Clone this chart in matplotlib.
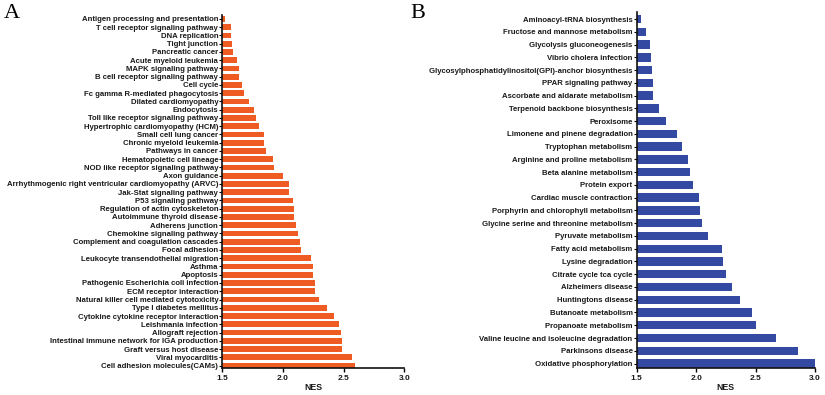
import matplotlib
matplotlib.use("Agg")
import matplotlib.pyplot as plt

plt.rcParams['font.family'] = ['Liberation Sans', 'DejaVu Sans']

cats_a = [
    "Antigen processing and presentation", "T cell receptor signaling pathway",
    "DNA replication", "Tight junction", "Pancreatic cancer", "Acute myeloid leukemia",
    "MAPK signaling pathway", "B cell receptor signaling pathway", "Cell cycle",
    "Fc gamma R-mediated phagocytosis", "Dilated cardiomyopathy", "Endocytosis",
    "Toll like receptor signaling pathway", "Hypertrophic cardiomyopathy (HCM)",
    "Small cell lung cancer", "Chronic myeloid leukemia", "Pathways in cancer",
    "Hematopoietic cell lineage", "NOD like receptor signaling pathway", "Axon guidance",
    "Arrhythmogenic right ventricular cardiomyopathy (ARVC)", "Jak-Stat signaling pathway",
    "P53 signaling pathway", "Regulation of actin cytoskeleton", "Autoimmune thyroid disease",
    "Adherens junction", "Chemokine signaling pathway", "Complement and coagulation cascades",
    "Focal adhesion", "Leukocyte transendothelial migration", "Asthma", "Apoptosis",
    "Pathogenic Escherichia coli infection", "ECM receptor interaction",
    "Natural killer cell mediated cytotoxicity", "Type I diabetes mellitus",
    "Cytokine cytokine receptor interaction", "Leishmania infection", "Allograft rejection",
    "Intestinal immune network for IGA production", "Graft versus host disease",
    "Viral myocarditis", "Cell adhesion molecules(CAMs)",
]
nes_a = [
    1.52, 1.57, 1.57, 1.58, 1.59, 1.62, 1.64, 1.64, 1.66, 1.68, 1.72, 1.76, 1.78, 1.80,
    1.84, 1.84, 1.86, 1.92, 1.93, 2.00, 2.05, 2.05, 2.08, 2.09, 2.09, 2.11, 2.12, 2.14,
    2.15, 2.23, 2.25, 2.25, 2.26, 2.26, 2.30, 2.36, 2.42, 2.46, 2.48, 2.49, 2.49, 2.57, 2.59,
]

cats_b = [
    "Aminoacyl-tRNA biosynthesis", "Fructose and mannose metabolism",
    "Glycolysis gluconeogenesis", "Vibrio cholera infection",
    "Glycosylphosphatidylinositol(GPI)-anchor biosynthesis", "PPAR signaling pathway",
    "Ascorbate and aldarate metabolism", "Terpenoid backbone biosynthesis", "Peroxisome",
    "Limonene and pinene degradation", "Tryptophan metabolism",
    "Arginine and proline metabolism", "Beta alanine metabolism", "Protein export",
    "Cardiac muscle contraction", "Porphyrin and chlorophyll metabolism",
    "Glycine serine and threonine metabolism", "Pyruvate metabolism",
    "Fatty acid metabolism", "Lysine degradation", "Citrate cycle tca cycle",
    "Alzheimers disease", "Huntingtons disease", "Butanoate metabolism",
    "Propanoate metabolism", "Valine leucine and isoleucine degradation",
    "Parkinsons disease", "Oxidative phosphorylation",
]
nes_b = [
    1.54, 1.58, 1.61, 1.62, 1.63, 1.64, 1.64, 1.69, 1.75, 1.84, 1.88, 1.93, 1.95, 1.97,
    2.02, 2.03, 2.05, 2.10, 2.22, 2.23, 2.25, 2.30, 2.37, 2.47, 2.50, 2.67, 2.86, 3.00,
]

xticks = [1.5, 2.0, 2.5, 3.0]
xlabel = "NES"

fig = plt.figure(figsize=(8.25, 3.95), dpi=100)


def panel(rect, cats, vals, color, ylo, yhi, hgt):
    ax = fig.add_axes(rect)
    n = len(cats)
    pos = list(range(n))
    base = 1.5
    ax.barh(pos, [v - base for v in vals], left=base, height=hgt, color=color,
            edgecolor='none')
    ax.set_xlim(1.5, 3.0)
    ax.set_ylim(n - 1 + ylo, -yhi)
    ax.set_yticks(pos)
    ax.set_yticklabels(cats, fontsize=5.6, fontweight='bold', color='#1a1a1a')
    ax.set_xticks(xticks)
    ax.set_xticklabels([f"{t:.1f}" for t in xticks], fontsize=6.0, fontweight='bold',
                       color='#1a1a1a')
    ax.set_xlabel(xlabel, fontsize=6.3, fontweight='bold', labelpad=1.0, color='#1a1a1a')
    for s in ['top', 'right']:
        ax.spines[s].set_visible(False)
    for s in ['left', 'bottom']:
        ax.spines[s].set_linewidth(1.2)
        ax.spines[s].set_color('#111111')
    ax.tick_params(axis='y', length=2, width=0.8, pad=1)
    ax.tick_params(axis='x', length=3, width=1.0, pad=2)
    return ax


panel([0.2695, 0.0684, 0.2205, 0.894], cats_a, nes_a, '#EE5C24', 0.3, 0.5, 0.68)
panel([0.7718, 0.0684, 0.2161, 0.901], cats_b, nes_b, '#3449A2', 0.35, 0.55, 0.66)

fig.text(0.004, 0.99, "A", fontsize=16, family='Liberation Serif', va='top', ha='left')
fig.text(0.498, 0.99, "B", fontsize=16, family='Liberation Serif', va='top', ha='left')

fig.savefig("out.png", dpi=100)
